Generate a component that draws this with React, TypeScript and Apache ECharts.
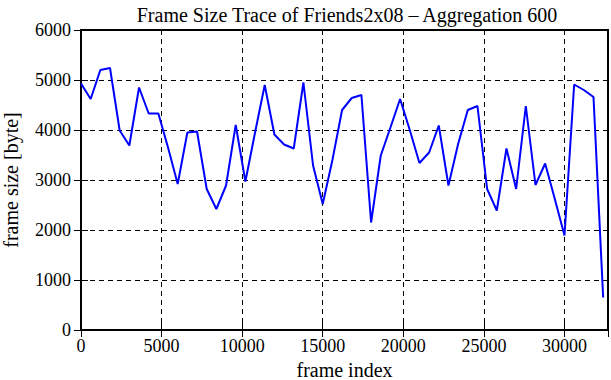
import React, { useEffect, useRef } from "react";
import * as echarts from "echarts";

const frameIndex = [
  0, 600, 1200, 1800, 2400, 3000, 3600, 4200, 4800, 5400,
  6000, 6600, 7200, 7800, 8400, 9000, 9600, 10200, 10800, 11400,
  12000, 12600, 13200, 13800, 14400, 15000, 15600, 16200, 16800, 17400,
  18000, 18600, 19200, 19800, 20400, 21000, 21600, 22200, 22800, 23400,
  24000, 24600, 25200, 25800, 26400, 27000, 27600, 28200, 28800, 29400,
  30000, 30600, 31200, 31800, 32400,
];
const frameSize = [
  4930, 4620, 5200, 5240, 3990, 3690, 4850, 4330, 4330, 3650,
  2920, 3950, 3970, 2820, 2420, 2890, 4100, 2970, 3950, 4900,
  3910, 3710, 3630, 4950, 3290, 2520, 3400, 4400, 4640, 4700,
  2150, 3490, 4050, 4620, 4000, 3340, 3550, 4090, 2890, 3720,
  4400, 4480, 2820, 2390, 3630, 2820, 4480, 2900, 3330, 2620,
  1890, 4910, 4800, 4660, 650,
];
const titleText = "Frame Size Trace of Friends2x08 \u2013 Aggregation 600";
const xName = "frame index";
const yName = "frame size [byte]";

const FONT = "Liberation Serif";

export default function App() {
  const ref = useRef<HTMLDivElement>(null);
  useEffect(() => {
    if (!ref.current) return;
    const chart = echarts.init(ref.current, null, { renderer: "svg" });
    const xCommon = {
      type: "value" as const,
      min: 0,
      max: 32700,
      interval: 5000,
    };
    const yCommon = {
      type: "value" as const,
      min: 0,
      max: 6000,
      interval: 1000,
    };
    const tick = { show: true, inside: true, length: 7, lineStyle: { color: "#000", width: 1 } };
    const fmt = (v: number) => String(v);
    chart.setOption({
      animation: false,
      backgroundColor: "#ffffff",
      textStyle: { fontFamily: FONT },
      title: {
        text: titleText,
        left: 342,
        textAlign: "center",
        top: 0,
        textStyle: { fontFamily: FONT, fontSize: 20, fontWeight: "normal", color: "#000" },
      },
      grid: {
        left: 81,
        right: 3,
        top: 30,
        bottom: 50,
        outerBoundsMode: "none",
        containLabel: false,
        show: true,
        borderColor: "#000",
        borderWidth: 2,
        backgroundColor: "transparent",
      },
      xAxis: [
        {
          ...xCommon,
          position: "bottom",
          name: xName,
          nameLocation: "middle",
          nameGap: 27,
          nameTextStyle: { fontFamily: FONT, fontSize: 20, color: "#000" },
          axisLine: { show: false },
          axisTick: tick,
          axisLabel: {
            fontFamily: FONT,
            fontSize: 18,
            color: "#000",
            margin: 7,
            showMaxLabel: false,
            formatter: fmt,
          },
          splitLine: {
            show: true,
            lineStyle: { color: "#000", width: 1, type: [5, 4] },
          },
        },
        {
          ...xCommon,
          position: "top",
          axisLine: { show: false },
          axisTick: tick,
          axisLabel: { show: false },
          splitLine: { show: false },
        },
      ],
      yAxis: [
        {
          ...yCommon,
          position: "left",
          name: yName,
          nameLocation: "middle",
          nameGap: 60,
          nameRotate: 90,
          nameTextStyle: { fontFamily: FONT, fontSize: 20, color: "#000" },
          axisLine: { show: false },
          axisTick: tick,
          axisLabel: { fontFamily: FONT, fontSize: 18, color: "#000", margin: 10, formatter: fmt },
          splitLine: {
            show: true,
            lineStyle: { color: "#000", width: 1, type: [5, 4] },
          },
        },
        {
          ...yCommon,
          position: "right",
          axisLine: { show: false },
          axisTick: tick,
          axisLabel: { show: false },
          splitLine: { show: false },
        },
      ],
      series: [
        {
          type: "line",
          xAxisIndex: 0,
          yAxisIndex: 0,
          data: frameIndex.map((x, i) => [x, frameSize[i]]),
          showSymbol: false,
          symbol: "none",
          lineStyle: { color: "#0000ff", width: 2 },
          itemStyle: { color: "#0000ff" },
        },
      ],
    });
    return () => chart.dispose();
  }, []);
  return <div ref={ref} style={{ width: 611, height: 380, position: "absolute", left: 0, top: 0 }} />;
}
